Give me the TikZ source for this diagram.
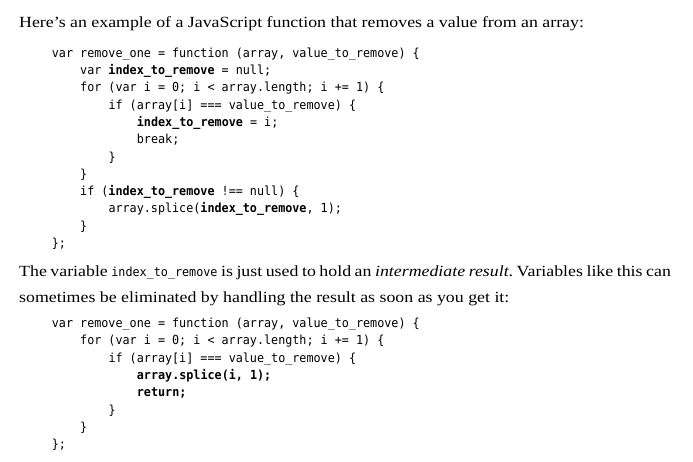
\documentclass[tikz,border=0pt]{standalone}
\usepackage{fontspec}
\setmainfont{Liberation Serif}[FakeStretch=1.15]
\newfontfamily\codefont{DejaVu Sans Mono}[FakeStretch=0.94]
\newcommand{\bodysize}{\fontsize{15.5}{26}\selectfont}
\newcommand{\codesize}{\fontsize{12.5}{17.3}\selectfont}
\newcommand{\us}{\_}
\frenchspacing
\tikzset{text line/.style={anchor=base west,inner sep=0pt,font=\bodysize},
  code line/.style={anchor=base west,inner sep=0pt,font=\codesize\codefont},}

\begin{document}
\begin{tikzpicture}[x=1pt,y=-1pt]
  \useasboundingbox[fill=white] (0,0) rectangle (693,462);
  %% Nodes
  \node[text line] (intro) at (19,27.3) {Here’s an example of a JavaScript function that removes a value from an array:};
  %% First listing
  \node[code line] (a1) at (51.7,57.3) {var remove\us one = function (array, value\us to\us remove) \{};
  \node[code line] (a2) at (80,74.6) {var \textbf{index\us to\us remove} = null;};
  \node[code line] (a3) at (80,91.9) {for (var i = 0; i < array.length; i += 1) \{};
  \node[code line] (a4) at (108.3,109.2) {if (array[i] === value\us to\us remove) \{};
  \node[code line] (a5) at (136.7,126.5) {\textbf{index\us to\us remove} = i;};
  \node[code line] (a6) at (136.7,143.8) {break;};
  \node[code line] (a7) at (108.3,161.1) {\}};
  \node[code line] (a8) at (80,178.4) {\}};
  \node[code line] (a9) at (80,195.7) {if (\textbf{index\us to\us remove} !== null) \{};
  \node[code line] (a10) at (108.3,213) {array.splice(\textbf{index\us to\us remove}, 1);};
  \node[code line] (a11) at (80,230.3) {\}};
  \node[code line] (a12) at (51.7,247.6) {\};};
  %% Paragraph
  \node[text line] (para1) at (19,276.7) {\makebox[651.7pt][s]{The variable {\codefont\codesize index\us to\us remove} is just used to hold an \emph{intermediate result}. Variables like this can}};
  \node[text line] (para2) at (19,302.7) {sometimes be eliminated by handling the result as soon as you get it:};
  %% Second listing
  \node[code line] (b1) at (51.7,327.5) {var remove\us one = function (array, value\us to\us remove) \{};
  \node[code line] (b2) at (80,344.8) {for (var i = 0; i < array.length; i += 1) \{};
  \node[code line] (b3) at (108.3,362.1) {if (array[i] === value\us to\us remove) \{};
  \node[code line] (b4) at (136.7,379.4) {\textbf{array.splice(i, 1);}};
  \node[code line] (b5) at (136.7,396.7) {\textbf{return;}};
  \node[code line] (b6) at (108.3,414) {\}};
  \node[code line] (b7) at (80,431.3) {\}};
  \node[code line] (b8) at (51.7,448.6) {\};};
\end{tikzpicture}
\end{document}
